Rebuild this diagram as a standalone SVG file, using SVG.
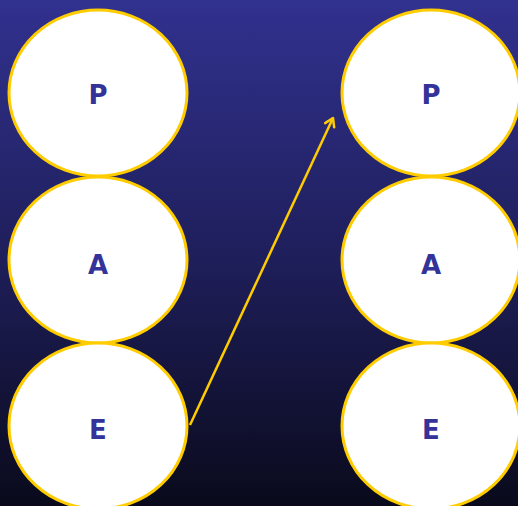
<svg xmlns="http://www.w3.org/2000/svg" width="518" height="506" viewBox="0 0 518 506">
<defs>
<linearGradient id="bg" x1="0" y1="0" x2="0" y2="1">
<stop offset="0" stop-color="#31318f"/>
<stop offset="0.5" stop-color="#1f1f5c"/>
<stop offset="1" stop-color="#0a0a1c"/>
</linearGradient>
<marker id="arr" markerWidth="14" markerHeight="14" refX="10" refY="6" orient="auto" markerUnits="userSpaceOnUse">
<path d="M2,1 L10,6 L2,11" fill="none" stroke="#ffcc00" stroke-width="2.5" stroke-linecap="round" stroke-linejoin="round"/>
</marker>
<style>
.n{fill:#ffffff;stroke:#ffcc00;stroke-width:3}
.t{font-family:"DejaVu Sans",sans-serif;font-weight:bold;font-size:26px;fill:#333399;text-anchor:middle}
</style>
</defs>
<rect width="518" height="506" fill="url(#bg)"/>
<g id="lP"><ellipse class="n" cx="98" cy="93" rx="89" ry="83"/><text class="t" x="98" y="104">P</text></g>
<g id="lA"><ellipse class="n" cx="98" cy="260" rx="89" ry="83"/><text class="t" x="98" y="274">A</text></g>
<g id="lE"><ellipse class="n" cx="98" cy="426" rx="89" ry="83"/><text class="t" x="98" y="439">E</text></g>
<g id="rP"><ellipse class="n" cx="431" cy="93" rx="89" ry="83"/><text class="t" x="431" y="104">P</text></g>
<g id="rA"><ellipse class="n" cx="431" cy="260" rx="89" ry="83"/><text class="t" x="431" y="274">A</text></g>
<g id="rE"><ellipse class="n" cx="431" cy="426" rx="89" ry="83"/><text class="t" x="431" y="439">E</text></g>
<g id="connectors">
<line x1="190" y1="425" x2="333" y2="118" stroke="#ffcc00" stroke-width="2.5" marker-end="url(#arr)"/>
</g>
</svg>
